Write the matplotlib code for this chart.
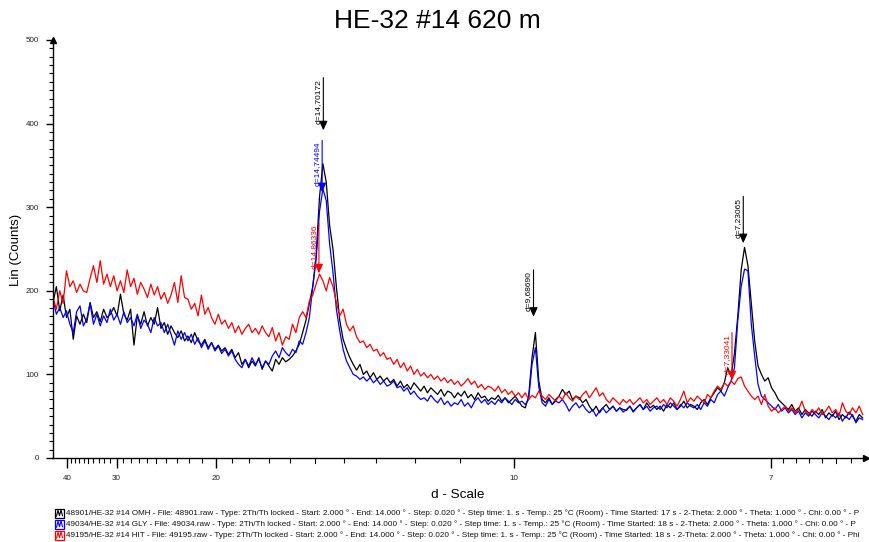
import numpy as np
import matplotlib
matplotlib.use("Agg")
import matplotlib.pyplot as plt
from matplotlib.patches import Rectangle
from matplotlib.lines import Line2D
from matplotlib.transforms import blended_transform_factory

plt.rcParams['font.family'] = ['Liberation Sans', 'DejaVu Sans']

WAVELENGTH = 1.5406  # Cu K-alpha

# counts, scan 2.00 .. 14.00 deg 2Th, read every 0.05 deg
omh = [186, 205, 176, 195, 168, 178, 142, 170, 160, 172,
       162, 186, 168, 175, 163, 178, 168, 172, 180, 170,
       196, 172, 165, 178, 135, 170, 160, 175, 158, 168,
       160, 180, 155, 162, 148, 158, 150, 144, 152, 140,
       146, 138, 150, 140, 135, 142, 132, 138, 130, 135,
       128, 132, 124, 130, 120, 126, 112, 118, 108, 116,
       110, 120, 106, 116, 110, 104, 118, 112, 120, 115,
       118, 122, 128, 136, 150, 165, 185, 205, 242, 312,
       352, 330, 278, 250, 205, 165, 142, 130, 120, 112,
       105, 112, 100, 104, 96, 102, 94, 98, 92, 96,
       90, 94, 86, 92, 84, 88, 82, 90, 85, 80,
       86, 78, 84, 80, 76, 82, 74, 80, 78, 72,
       78, 74, 80, 72, 76, 70, 78, 72, 74, 68,
       72, 70, 75, 68, 72, 66, 70, 74, 68, 62,
       60, 74, 120, 150, 92, 70, 66, 72, 64, 70,
       74, 82, 76, 80, 70, 74, 72, 66, 70, 62,
       56, 62, 54, 60, 64, 58, 62, 56, 60, 58,
       57, 62, 55, 60, 64, 58, 66, 60, 63, 58,
       62, 56, 64, 60, 66, 58, 62, 68, 60, 64,
       62, 58, 66, 70, 64, 72, 78, 84, 80, 90,
       108, 98, 125, 170, 225, 252, 230, 185, 140, 110,
       100, 92, 96, 84, 78, 70, 66, 62, 58, 64,
       56, 60, 52, 58, 54, 50, 56, 52, 58, 48,
       54, 50, 56, 46, 52, 48, 55, 50, 44, 52,
       48]

gly = [190, 172, 180, 168, 176, 160, 150, 175, 182, 158,
       166, 185, 160, 172, 158, 170, 162, 178, 165, 172,
       160, 175, 162, 168, 158, 172, 155, 165, 160, 150,
       168, 158, 162, 150, 160, 148, 135, 152, 142, 150,
       140, 148, 136, 144, 132, 140, 130, 138, 128, 134,
       125, 130, 122, 128, 118, 112, 108, 118, 110, 120,
       112, 118, 108, 116, 112, 122, 128, 120, 132, 126,
       122, 130, 126, 140, 136, 150, 168, 205, 238, 295,
       322, 308, 256, 222, 178, 152, 130, 116, 108, 100,
       98, 94, 97, 92, 96, 90, 94, 88, 92, 86,
       88, 92, 84, 86, 80, 84, 76, 80, 74, 70,
       72, 68, 75, 70, 66, 72, 64, 68, 62, 66,
       64, 70, 62, 66, 60, 68, 72, 66, 70, 64,
       68, 64, 70, 66, 72, 68, 64, 70, 66, 68,
       64, 70, 112, 132, 85, 66, 62, 70, 64, 68,
       66, 70, 64, 56, 62, 66, 60, 64, 58, 54,
       58, 50, 56, 60, 54, 58, 62, 56, 60, 55,
       58, 62, 56, 60, 64, 58, 62, 56, 60, 62,
       58, 64, 60, 66, 62, 58, 64, 60, 66, 62,
       60, 64, 58, 66, 62, 70, 66, 76, 80, 74,
       84, 92, 108, 165, 205, 226, 224, 160, 122, 88,
       74, 70, 66, 62, 58, 64, 56, 60, 54, 58,
       52, 56, 48, 54, 50, 56, 52, 48, 54, 50,
       46, 52, 48, 54, 44, 50, 46, 52, 42, 48,
       46]

hit = [192, 178, 200, 185, 224, 205, 212, 198, 208, 200,
       198, 215, 230, 210, 236, 208, 220, 205, 218, 200,
       212, 198, 225, 205, 215, 196, 210, 202, 192, 208,
       195, 205, 190, 198, 185, 195, 210, 186, 218, 192,
       190, 178, 185, 170, 195, 172, 180, 168, 160, 172,
       160, 165, 155, 162, 150, 158, 148, 155, 160, 150,
       155, 148, 158, 150, 145, 156, 140, 150, 135, 145,
       142, 160, 150, 168, 175, 168, 188, 195, 208, 220,
       212, 200, 216, 205, 186, 170, 178, 160, 152, 158,
       145, 138, 140, 132, 136, 128, 130, 122, 126, 118,
       120, 112, 118, 108, 114, 104, 110, 100, 106, 98,
       102, 96, 100, 94, 98, 92, 96, 90, 94, 88,
       92, 86, 90, 95, 88, 92, 84, 88, 82, 86,
       84, 80, 86, 78, 82, 76, 80, 74, 78, 72,
       78, 70, 75, 72, 80, 74, 70, 76, 72, 68,
       74, 70, 78, 72, 68, 74, 70, 76, 80, 72,
       78, 84, 74, 78, 70, 66, 72, 68, 64, 70,
       66, 70, 64, 68, 72, 66, 70, 64, 68, 72,
       66, 70, 64, 72, 68, 62, 70, 80, 66, 72,
       68, 74, 70, 66, 76, 72, 80, 86, 82, 90,
       86, 92, 88, 95, 97, 86, 80, 74, 70, 74,
       64, 76, 62, 56, 60, 54, 58, 62, 56, 60,
       54, 58, 68, 56, 52, 58, 54, 60, 52, 56,
       62, 54, 58, 50, 66, 56, 52, 60, 54, 62,
       52]

series_colors = ['#000000', '#0000ff', '#ff0000']
legend_texts = [
    "48901/HE-32 #14 OMH - File: 48901.raw - Type: 2Th/Th locked - Start: 2.000 ° - End: 14.000 ° - Step: 0.020 ° - Step time: 1. s - Temp.: 25 °C (Room) - Time Started: 17 s - 2-Theta: 2.000 ° - Theta: 1.000 ° - Chi: 0.00 ° - P",
    "49034/HE-32 #14 GLY - File: 49034.raw - Type: 2Th/Th locked - Start: 2.000 ° - End: 14.000 ° - Step: 0.020 ° - Step time: 1. s - Temp.: 25 °C (Room) - Time Started: 18 s - 2-Theta: 2.000 ° - Theta: 1.000 ° - Chi: 0.00 ° - P",
    "49195/HE-32 #14 HIT - File: 49195.raw - Type: 2Th/Th locked - Start: 2.000 ° - End: 14.000 ° - Step: 0.020 ° - Step time: 1. s - Temp.: 25 °C (Room) - Time Started: 18 s - 2-Theta: 2.000 ° - Theta: 1.000 ° - Chi: 0.00 ° - Phi",
]

# peak markers: d value, series index, arrow tip and top (counts)
peak_d = [14.70172, 14.74494, 14.86336, 9.68690, 7.23065, 7.33041]
peak_series = [0, 1, 2, 0, 0, 2]
peak_tip = [392, 318, 221, 169, 257, 93]
peak_top = [455, 380, 281, 225, 313, 150]

d_major = [40, 30, 20, 10, 7]
d_minor = [39, 38, 37, 36, 34, 33, 32, 31, 29, 28, 27, 26, 24, 23, 22, 21,
           19, 18, 17, 16, 14, 13, 12, 11, 6.9, 6.8, 6.7, 6.6, 6.4]
d_mid = [35, 25, 15, 6.5]


def d_to_2th(d):
    return 2 * np.degrees(np.arcsin(WAVELENGTH / (2 * np.asarray(d, dtype=float))))


two_theta = np.linspace(2.0, 14.0, len(omh))

fig = plt.figure(figsize=(8.69, 5.42), dpi=100)
ax = fig.add_axes([53 / 869, 84 / 542, 813 / 869, 418 / 542])

for ys, c in zip([omh, gly, hit], series_colors):
    ax.plot(two_theta, ys, color=c, lw=0.9)

ax.set_xlim(2.0, 14.05)
ax.set_ylim(0, 500)

# axes look: only left/bottom with arrowheads
ax.spines['top'].set_visible(False)
ax.spines['right'].set_visible(False)
for s in ['left', 'bottom']:
    ax.spines[s].set_linewidth(1.0)
ax.plot([1.0], [0], marker='>', ms=4, color='k', transform=ax.transAxes, clip_on=False)
ax.plot([0], [1.0], marker='^', ms=4, color='k', transform=ax.transAxes, clip_on=False)

ax.set_yticks(np.arange(0, 501, 100))
ax.set_yticks(np.arange(0, 501, 10), minor=True)
ax.set_xticks(d_to_2th(d_major))
ax.set_xticklabels([str(d) for d in d_major])
ax.set_xticks(d_to_2th(d_minor), minor=True)
ax.tick_params(axis='both', which='major', labelsize=5.8, labelcolor='#222222', width=1.0)
ax.tick_params(axis='y', which='major', length=5, pad=5)
ax.tick_params(axis='y', which='minor', length=3, width=0.8)
ax.tick_params(axis='x', which='major', length=7, pad=5)
ax.tick_params(axis='x', which='minor', length=3.5, width=0.8)

# slightly longer ticks at the half steps
trans = blended_transform_factory(ax.transData, ax.transAxes)
for d in d_mid:
    ax.plot([d_to_2th(d)] * 2, [0, -5 / 418], color='k', lw=0.8, transform=trans, clip_on=False)

fig.text(16 / 869, (542 - 250) / 542, "Lin (Counts)", rotation=90, ha='center', va='center', fontsize=9.5)
fig.text(458 / 869, (542 - 495) / 542, "d - Scale", ha='center', va='center', fontsize=9.7)
fig.text(0.503, 0.962, "HE-32 #14 620 m", ha='center', va='center', fontsize=19)

# peak arrows with d labels
for d, si, tip, top in zip(peak_d, peak_series, peak_tip, peak_top):
    c = series_colors[si]
    x = d_to_2th(d)
    ax.annotate('', xy=(x, tip), xytext=(x, top),
                arrowprops=dict(arrowstyle='-|>,head_length=0.55,head_width=0.25',
                                color=c, lw=0.8, shrinkA=0, shrinkB=0, mutation_scale=10))
    ax.text(x - 0.02, top - 2, "d=%s" % ("%.5f" % d).replace('.', ','), rotation=90,
            ha='right', va='top', fontsize=6, color=c)

# legend lines under the chart
for i, (txt, c) in enumerate(zip(legend_texts, series_colors)):
    yc = (542 - (513 + 11 * i)) / 542
    w, h = 9 / 869, 9 / 542
    fig.add_artist(Rectangle((55 / 869, yc - h / 2), w, h, transform=fig.transFigure,
                             fill=False, edgecolor=c, lw=0.9))
    zx = np.array([56.5, 58, 59.5, 61, 62.5]) / 869
    zy = yc + np.array([-0.35, 0.3, -0.3, 0.35, -0.3]) * h
    fig.add_artist(Line2D(zx, zy, transform=fig.transFigure, color=c, lw=0.8))
    fig.text(66 / 869, yc, txt, ha='left', va='center', fontsize=5.85, color='#111111')

fig.savefig("out.png", dpi=100)
